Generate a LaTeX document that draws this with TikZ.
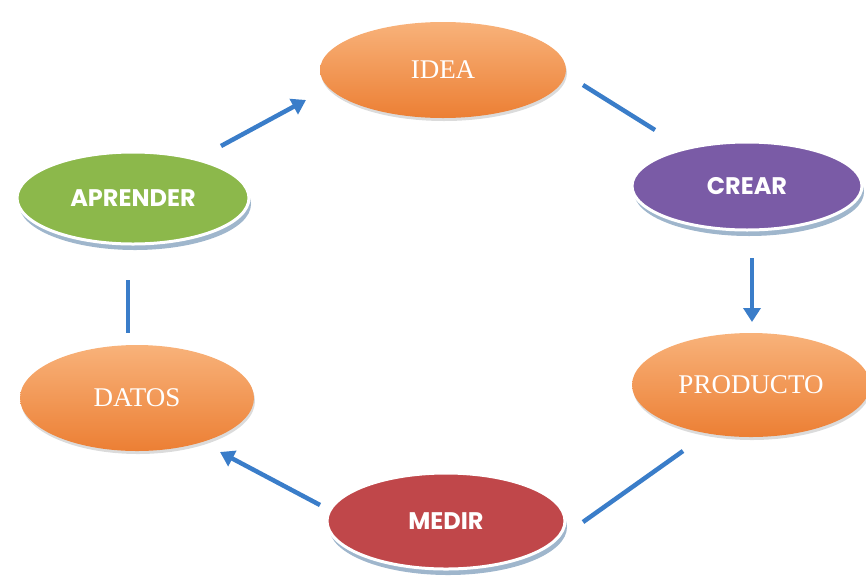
\documentclass[tikz,border=0pt]{standalone}
\usepackage{fontspec}
\newfontfamily\popb{Poppins}[BoldFont={* Bold}]
\newfontfamily\serf{Liberation Serif}
\usetikzlibrary{shapes.geometric,arrows.meta,shadows}
\definecolor{ortop}{HTML}{F8B27A}
\definecolor{orbot}{HTML}{EC7F34}
\definecolor{crearpurple}{HTML}{7A5BA6}
\definecolor{aprgreen}{HTML}{8CB84B}
\definecolor{medirred}{HTML}{C0474A}
\definecolor{shadowblue}{HTML}{9FB6CC}
\definecolor{arrowblue}{HTML}{3A7DC9}
\begin{document}
\begin{tikzpicture}[x=1pt,y=-1pt,
  oval/.style={ellipse, inner sep=0pt},
  orangeoval/.style={oval, top color=ortop, bottom color=orbot, draw=none,
     drop shadow={shadow xshift=1pt, shadow yshift=-3pt, fill=black!40, opacity=0.35},
     text=white, font=\serf\fontsize{27}{27}\selectfont},
  flatoval/.style={oval, fill=#1, draw=white, line width=3pt,
     drop shadow={shadow xshift=2pt, shadow yshift=-6pt, fill=shadowblue, opacity=1},
     text=white, font=\popb\bfseries\fontsize{24}{24}\selectfont},
  link/.style={draw=arrowblue, line width=4.5pt},
  arrowlink/.style={link, -{Triangle[length=14pt,width=17pt]}}]
\useasboundingbox (0,0) rectangle (866,587);
\node[orangeoval, minimum width=246pt, minimum height=96pt] (idea) at (443,70) {IDEA};
\node[flatoval=crearpurple, minimum width=230pt, minimum height=88pt] (crear) at (747,186) {CREAR};
\node[orangeoval, minimum width=238pt, minimum height=104pt] (prod) at (751,385) {PRODUCTO};
\node[flatoval=medirred, minimum width=238pt, minimum height=96pt] (medir) at (446,521) {MEDIR};
\node[orangeoval, minimum width=234pt, minimum height=106pt] (datos) at (137,398) {DATOS};
\node[flatoval=aprgreen, minimum width=232pt, minimum height=92pt] (apr) at (133,198) {APRENDER};
\draw[arrowlink] ([shift={(88,-52)}]apr.center) -- ([shift={(-137,30)}]idea.center);
\draw[link] ([shift={(140,15)}]idea.center) -- ([shift={(-92,-56)}]crear.center);
\draw[arrowlink] ([shift={(5,72)}]crear.center) -- ([shift={(1,-63)}]prod.center);
\draw[link] ([shift={(-68,66)}]prod.center) -- ([shift={(137,1)}]medir.center);
\draw[arrowlink] ([shift={(-126,-16)}]medir.center) -- ([shift={(83,54)}]datos.center);
\draw[link] ([shift={(-5,82)}]apr.center) -- ([shift={(-9,-65)}]datos.center);
\end{tikzpicture}
\end{document}
